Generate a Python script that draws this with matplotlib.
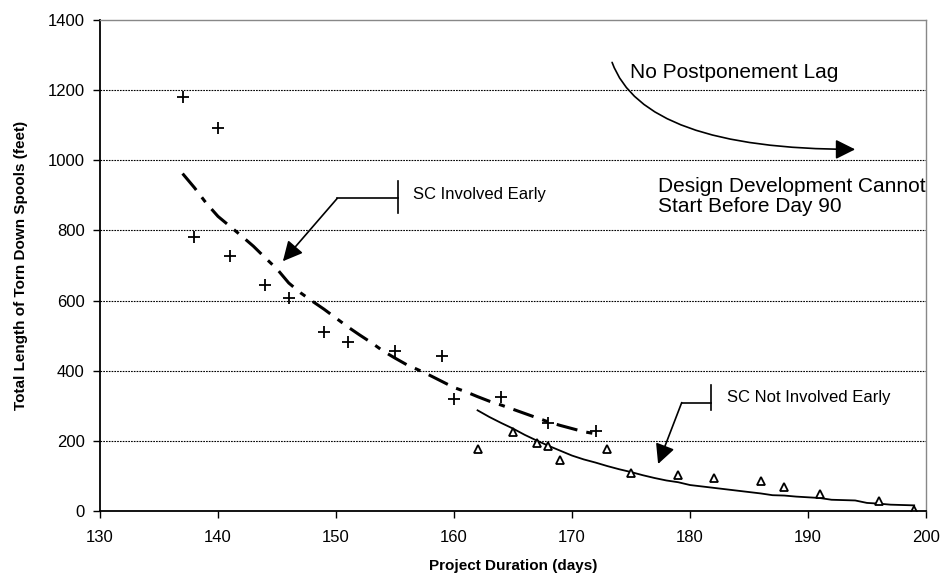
import numpy as np
import matplotlib
matplotlib.use("Agg")
from matplotlib import pyplot as plt

plt.rcParams['font.family'] = ['Liberation Sans', 'DejaVu Sans']

# observed points, SC involved early (+)
early_days = [137, 138, 140, 141, 144, 146, 149, 151, 155, 159, 160, 164, 168, 172]
early_len = [1179, 781, 1091, 727, 644, 607, 511, 483, 455, 442, 318, 325, 251, 229]

# observed points, SC not involved early (triangles)
late_days = [162, 165, 167, 168, 169, 173, 175, 179, 182, 186, 188, 191, 196, 199]
late_len = [176, 224, 193, 184, 146, 176, 108, 103, 93, 86, 67, 47, 29, 3]

# fitted curve, SC involved early (dash-dot)
early_fit_days = list(range(137, 173))
early_fit_len = [962, 922, 878, 840, 812, 784, 755, 722, 690, 650,
                 622, 598, 575, 550, 525, 502, 480, 456, 436, 417,
                 402, 386, 369, 352, 340, 326, 313, 302, 290, 278,
                 266, 254, 244, 235, 226, 220]

# fitted curve, SC not involved early (solid)
late_fit_days = list(range(162, 200))
late_fit_len = [287, 268, 251, 235, 217, 201, 186, 172, 158, 147,
                138, 128, 119, 111, 102, 94, 87, 82, 74, 70,
                66, 62, 58, 54, 50, 45, 44, 41, 39, 37,
                32, 31, 30, 23, 21, 18, 17, 16]

x_ticks = [130, 140, 150, 160, 170, 180, 190, 200]
y_ticks = [0, 200, 400, 600, 800, 1000, 1200, 1400]

fig = plt.figure(figsize=(9.44, 5.8), dpi=100)
ax = fig.add_axes([0.1059, 0.119, 0.875, 0.8466])

for y in y_ticks[1:-1]:
    ax.axhline(y, color='black', lw=0.8, ls=(0, (1.5, 1)), zorder=0)

ax.plot(early_fit_days, early_fit_len, color='black', lw=2.2, ls=(0, (7, 3, 2, 3)))
ax.plot(late_fit_days, late_fit_len, color='black', lw=1.3)
ax.plot(early_days, early_len, ls='none', marker='+', ms=8, mew=1.3, color='black')
ax.plot(late_days, late_len, ls='none', marker='^', ms=6, mew=1.3,
        mfc='white', mec='black')

ax.set_xlim(130, 200)
ax.set_ylim(0, 1400)
ax.set_xticks(x_ticks)
ax.set_yticks(y_ticks)
ax.tick_params(labelsize=12, direction='out', length=5, width=1)
ax.tick_params(axis='y', pad=6)
ax.tick_params(axis='x', pad=9)

for s in ['left', 'bottom']:
    ax.spines[s].set_linewidth(1.3)
for s in ['top', 'right']:
    ax.spines[s].set_color('#888888')
    ax.spines[s].set_linewidth(1)

ax.set_xlabel('Project Duration (days)', fontsize=11, fontweight='bold', labelpad=10)
ax.set_ylabel('Total Length of Torn Down Spools (feet)', fontsize=11,
              fontweight='bold', labelpad=14)

head = dict(arrowstyle='-|>', color='black', lw=1.2, mutation_scale=30,
            shrinkA=0, shrinkB=0)

# SC Involved Early callout
ax.plot([155.25, 155.25], [851, 940], color='black', lw=1.2)
ax.plot([150.1, 155.25], [891, 891], color='black', lw=1.2)
ax.annotate('', xy=(145.5, 712), xytext=(150.1, 891), arrowprops=head)
ax.text(156.5, 903, 'SC Involved Early', fontsize=12, ha='left', va='center')

# SC Not Involved Early callout
ax.plot([181.75, 181.75], [287, 360], color='black', lw=1.2)
ax.plot([179.3, 181.75], [309, 309], color='black', lw=1.2)
ax.annotate('', xy=(177.3, 134), xytext=(179.3, 309), arrowprops=head)
ax.text(183.1, 323, 'SC Not Involved Early', fontsize=12, ha='left', va='center')

# No postponement lag curved arrow
curved = dict(head, connectionstyle='angle3,angleA=-70,angleB=0')
ax.annotate('', xy=(194, 1031), xytext=(173.4, 1279), arrowprops=curved)
ax.text(174.9, 1249, 'No Postponement Lag', fontsize=15, ha='left', va='center')
ax.text(177.3, 897, 'Design Development Cannot\nStart Before Day 90', fontsize=15,
        ha='left', va='center', linespacing=1.1)

fig.savefig('out.png', dpi=100)
